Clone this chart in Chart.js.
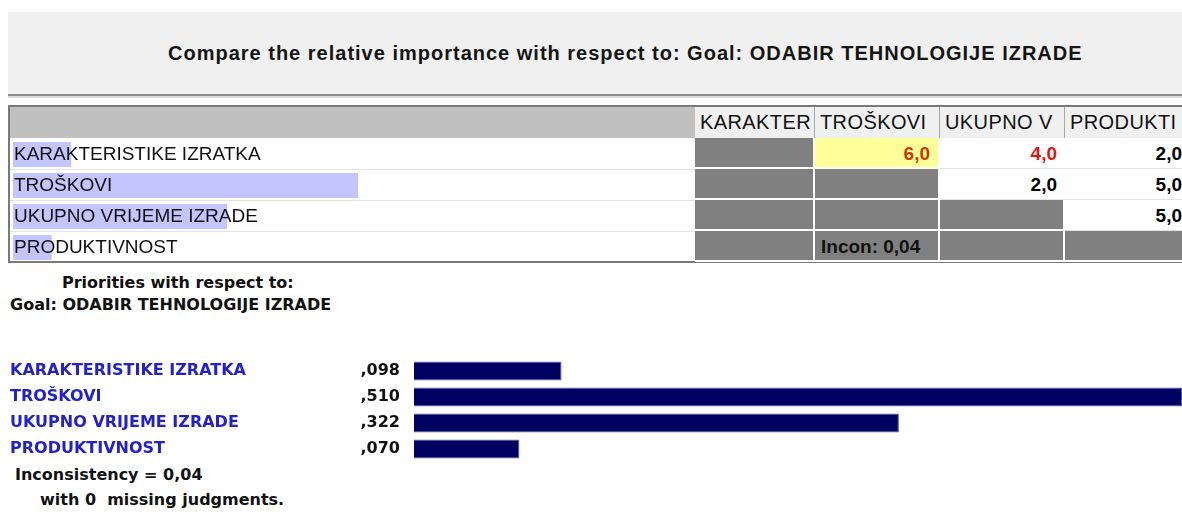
<!DOCTYPE html>
<html>
<head>
<meta charset="utf-8">
<script src="https://cdn.jsdelivr.net/npm/chart.js@4"></script>
<style>
  body { margin: 0; width: 1182px; height: 512px; overflow: hidden; background: #fff; position: relative;
         font-family: "Liberation Sans", Arial, sans-serif; }
  .abs { position: absolute; white-space: pre; }
  #panel { left: 8px; top: 12px; width: 1174px; height: 82px; background: #f0f0f0; }
  #title { left: 168px; top: 41px; font-size: 20px; font-weight: bold; letter-spacing: 1px; line-height: 24px; color: #151515; }
  .rule1 { left: 8px; top: 94px; width: 1174px; height: 2px; background: #8f8f8f; }
  .rule2 { left: 8px; top: 96px; width: 1174px; height: 2px; background: #dcdcdc; }
  #table { left: 8px; top: 105px; width: 1174px; height: 158px; border-top: 2px solid #7a7a7a; border-left: 2px solid #7a7a7a;
           border-bottom: 2px solid #7a7a7a; box-sizing: border-box; background: #fff; }
  #headband { left: 10px; top: 107px; width: 685px; height: 31px; background: #c0c0c0; }
  .head { height: 31px; top: 107px; line-height: 31px; font-size: 20px; letter-spacing: 0.4px; background: #f0f0f0; color: #111;
          border-right: 1px solid #a8a8a8; box-sizing: border-box; padding-left: 5px; overflow: hidden; }
  .rowline { left: 10px; width: 685px; height: 1px; background: #e4e4e4; }
  .label { left: 14px; height: 31px; line-height: 31px; font-size: 19px; color: #111; z-index: 2; }
  .cell { height: 31px; line-height: 31px; box-sizing: border-box; font-size: 19px; font-weight: bold;
          text-align: right; padding-right: 8px; overflow: hidden; }
  .grey { background: #808080; border-right: 2px solid #fff; border-bottom: 2px solid #fff; }
  .white { background: #fff; border-bottom: 1px solid #e4e4e4; }
  .sel { background: #ffff99; border-right: 2px solid #fff; border-bottom: 2px solid #fff; }
  .low { font-family: "DejaVu Sans", sans-serif; font-weight: bold; font-size: 16px; line-height: 20px; color: #111; }
  #hlwrap { left: 13px; top: 139px; width: 682px; height: 124px; overflow: hidden; z-index: 1; }
  #hl { position: absolute; left: -10px; top: 0; }
  #bars { left: 0; top: 358px; }
</style>
</head>
<body>
<div id="panel" class="abs"></div>
<div id="title" class="abs">Compare the relative importance with respect to: Goal: ODABIR TEHNOLOGIJE IZRADE</div>
<div class="abs rule1"></div>
<div class="abs rule2"></div>
<div id="table" class="abs"></div>
<div id="headband" class="abs"></div>
<div id="hlwrap" class="abs"><canvas id="hl" width="696" height="124"></canvas></div>
<div id="grid"></div>

<div class="abs low" style="left:62px; top:273px;">Priorities with respect to:</div>
<div class="abs low" style="left:10px; top:295px;">Goal: ODABIR TEHNOLOGIJE IZRADE</div>
<canvas id="bars" class="abs" width="1182" height="104"></canvas>
<div class="abs low" style="left:15px; top:465px;">Inconsistency = 0,04</div>
<div class="abs low" style="left:40px; top:490px;">with 0  missing judgments.</div>

<script>
// criteria and their priorities
var categories = ['KARAKTERISTIKE IZRATKA', 'TROŠKOVI', 'UKUPNO VRIJEME IZRADE', 'PRODUKTIVNOST'];
var priorities = [0.098, 0.510, 0.322, 0.070];
var headers = ['KARAKTER', 'TROŠKOVI', 'UKUPNO V', 'PRODUKTI'];

// pairwise judgments (upper triangle), red = inverted judgment
var judgments = [
    [null, '6,0', '4,0', '2,0'],
    [null, null, '2,0', '5,0'],
    [null, null, null, '5,0'],
    [null, null, null, null]
];
var inverted = [
    [0, 1, 1, 0],
    [0, 0, 0, 0],
    [0, 0, 0, 0],
    [0, 0, 0, 0]
];
var inconsistency = '0,04';

var colX = [695, 815, 940, 1065];
var colW = [120, 125, 125, 125];
var rowTop = 138, rowH = 31;

function fmt(v) {
    return ',' + v.toFixed(3).split('.')[1];
}

// build the comparison grid
var grid = document.getElementById('grid');
var html = '';
headers.forEach(function(h, j) {
    html += '<div class="abs head" style="left:' + colX[j] + 'px;width:' + colW[j] + 'px">' + h + '</div>';
});
categories.forEach(function(name, i) {
    var top = rowTop + i * rowH;
    html += '<div class="abs label" style="top:' + top + 'px">' + name + '</div>';
    if (i > 0) html += '<div class="abs rowline" style="top:' + top + 'px"></div>';
    for (var j = 0; j < headers.length; j++) {
        var cls = j <= i ? 'grey' : 'white';
        if (i === 0 && j === 1) cls = 'sel';
        var txt = judgments[i][j] || '';
        var style = 'left:' + colX[j] + 'px;top:' + top + 'px;width:' + colW[j] + 'px;';
        if (inverted[i][j]) style += 'color:' + (cls === 'sel' ? '#c83a00' : '#e01414') + ';';
        if (i === 3 && j === 1) {
            txt = 'Incon: ' + inconsistency;
            style += 'text-align:left;padding-left:6px;color:#111;';
        }
        html += '<div class="abs cell ' + cls + '" style="' + style + '">' + txt + '</div>';
    }
});
grid.innerHTML = html;

// lavender priority bars behind the row labels
new Chart(document.getElementById('hl'), {
    type: 'bar',
    data: {
        labels: categories,
        datasets: [{
            data: priorities,
            backgroundColor: '#c4c4ff',
            barPercentage: 0.8,
            categoryPercentage: 1
        }]
    },
    options: {
        indexAxis: 'y',
        responsive: false,
        animation: false,
        layout: { padding: 0 },
        plugins: { legend: { display: false }, tooltip: { enabled: false } },
        scales: {
            x: { display: false, min: 0, max: 1 },
            y: { display: false }
        }
    }
});

// names drawn to the left of the priority bars
var categoryNames = {
    id: 'categoryNames',
    afterDraw: function(chart) {
        var c = chart.ctx, y = chart.scales.y;
        c.save();
        c.font = 'bold 16px "DejaVu Sans"';
        c.fillStyle = '#2222c8';
        c.textBaseline = 'middle';
        categories.forEach(function(n, i) {
            c.fillText(n, 10, y.getPixelForTick(i));
        });
        c.restore();
    }
};

new Chart(document.getElementById('bars'), {
    type: 'bar',
    data: {
        labels: categories,
        datasets: [{
            data: priorities,
            backgroundColor: '#000062',
            borderColor: '#5a5aa0',
            borderWidth: 1,
            barPercentage: 0.73,
            categoryPercentage: 1
        }]
    },
    options: {
        indexAxis: 'y',
        responsive: false,
        animation: false,
        layout: { padding: 0 },
        plugins: { legend: { display: false }, tooltip: { enabled: false } },
        scales: {
            x: { display: false, min: 0, max: 0.51 },
            y: {
                grid: { display: false, drawTicks: false },
                border: { display: false },
                afterFit: function(s) {
                    // fixed label column, no extra top/bottom room
                    s.width = 414;
                    s.paddingTop = 0;
                    s.paddingBottom = 0;
                },
                ticks: {
                    padding: 14,
                    color: '#111',
                    font: { family: 'DejaVu Sans', weight: 'bold', size: 16 },
                    callback: function(v, i) { return fmt(priorities[i]); }
                }
            }
        }
    },
    plugins: [categoryNames]
});
</script>
</body>
</html>
